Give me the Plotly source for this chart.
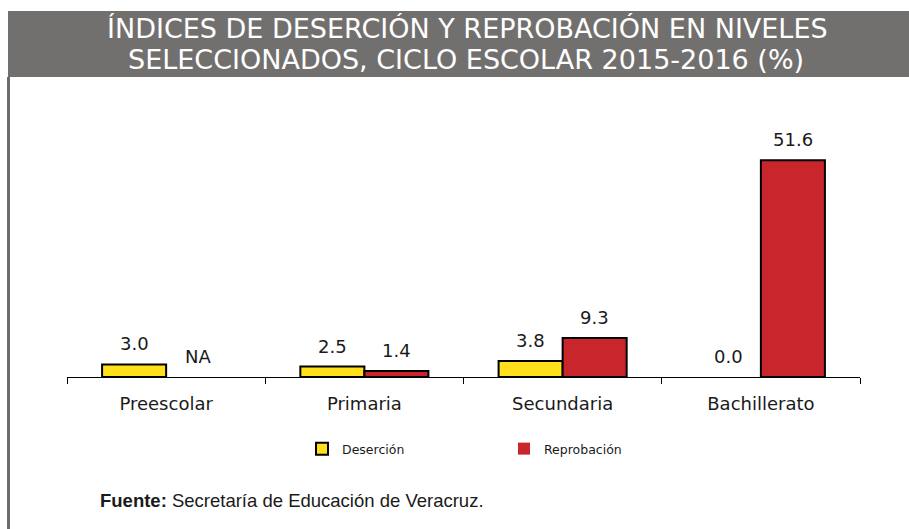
import plotly.graph_objects as go

categorias = ["Preescolar", "Primaria", "Secundaria", "Bachillerato"]
desercion = [3.0, 2.5, 3.8, 0.0]
reprobacion = [None, 1.4, 9.3, 51.6]
titulo_lineas = ["ÍNDICES DE DESERCIÓN Y REPROBACIÓN EN NIVELES",
                 "SELECCIONADOS, CICLO ESCOLAR 2015-2016 (%)"]
fuente_bold = "Fuente:"
fuente_texto = "Secretaría de Educación de Veracruz."

W, H = 909, 529
ML, MR, MT, MB = 67, 49, 125, 152
PW = W - ML - MR
PH = H - MT - MB
BARGAP = 0.354
half = (1 - BARGAP) / 4  # center offset of each bar within a group

def px_x(x):
    return (x - ML) / PW

def px_y(y):
    return (H - MB - y) / PH

def line_w(vals):
    return [2 if (v is not None and v > 0) else 0 for v in vals]

fig = go.Figure()
fig.add_bar(name="Deserción", x=categorias, y=desercion,
            marker=dict(color="#FFE01A", line=dict(color="#000000", width=line_w(desercion))))
rep_plot = [v if v is not None else 0 for v in reprobacion]
fig.add_bar(name="Reprobación", x=categorias, y=rep_plot,
            marker=dict(color="#C8252D", line=dict(color="#000000", width=line_w(reprobacion))))

annots = []
for i, (d, r) in enumerate(zip(desercion, reprobacion)):
    for val, off in ((d, -half), (r, half)):
        annots.append(dict(x=i + off, y=val if val is not None else 0, xref="x", yref="y",
                           text=f"{val:.1f}" if val is not None else "NA",
                           showarrow=False, yanchor="bottom", yshift=8,
                           font=dict(family="DejaVu Sans", size=18, color="#1a1a1a")))

for txt, ypx, xpx in zip(titulo_lineas, (28, 59), (467, 466)):
    annots.append(dict(x=px_x(xpx), y=px_y(ypx), xref="paper", yref="paper",
                       xanchor="center", yanchor="middle", showarrow=False, text=txt,
                       font=dict(family="DejaVu Sans", size=27, color="white")))

annots.append(dict(x=px_x(98), y=px_y(500), xref="paper", yref="paper",
                   xanchor="left", yanchor="middle", showarrow=False,
                   text=f"<b>{fuente_bold}</b> {fuente_texto}",
                   font=dict(family="Liberation Sans, Arial", size=18.5, color="#1a1a1a")))

fig.update_layout(
    width=W, height=H,
    margin=dict(l=ML, r=MR, t=MT, b=MB),
    paper_bgcolor="white", plot_bgcolor="white",
    barmode="group", bargap=BARGAP, bargroupgap=0,
    xaxis=dict(type="category", tickson="boundaries", ticks="outside", ticklen=6,
               tickcolor="#000000", showline=True, linecolor="#000000", linewidth=1,
               showgrid=False, tickfont=dict(family="DejaVu Sans", size=18, color="#1a1a1a"),
               ticklabelstandoff=10, range=[-0.5, 3.5]),
    yaxis=dict(range=[0, 60], visible=False, showgrid=False, zeroline=False),
    showlegend=True,
    legend=dict(orientation="h", x=px_x(302), y=px_y(449), xanchor="left", yanchor="middle",
                entrywidth=157, entrywidthmode="pixels", itemwidth=30,
                font=dict(family="DejaVu Sans", size=12.5, color="#1a1a1a"),
                bgcolor="rgba(0,0,0,0)"),
    annotations=annots,
    shapes=[
        dict(type="rect", xref="paper", yref="paper", x0=px_x(8), x1=px_x(W), y0=px_y(77), y1=px_y(11),
             fillcolor="#72706E", line=dict(width=0), layer="below"),
        dict(type="rect", xref="paper", yref="paper", x0=px_x(7), x1=px_x(10), y0=px_y(H), y1=px_y(77),
             fillcolor="#6E6C6A", line=dict(width=0), layer="below"),
    ],
)

fig.write_html("out.html")
